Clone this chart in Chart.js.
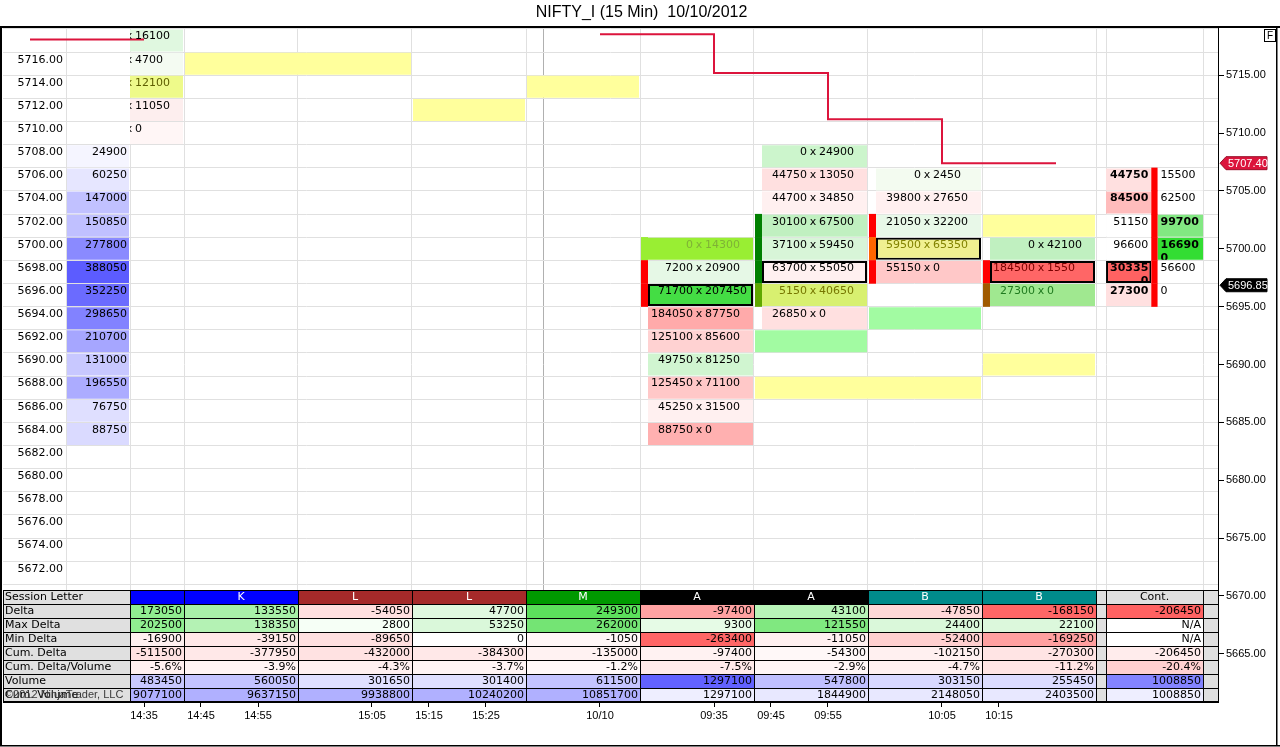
<!DOCTYPE html>
<html lang="en">
<head>
<meta charset="utf-8">
<title>NIFTY_I (15 Min) 10/10/2012</title>
<script src="https://cdn.jsdelivr.net/npm/chart.js@4.4.1/dist/chart.umd.min.js"></script>
<style>
  html, body { margin: 0; padding: 0; background: #fff; overflow: hidden; }
  canvas { display: block; }
</style>
</head>
<body>
<canvas id="chart" width="1280" height="747"></canvas>
<script>
const chartTitle = 'NIFTY_I (15 Min)  10/10/2012';

// time axis: labels sit on half-bar slots counted from the first bar
const timeLabels = ['14:35', '14:45', '14:55', '15:05', '15:15', '15:25', '10/10', '09:35', '09:45', '09:55', '10:05', '10:15'];
const timeSlots = [0, 1, 2, 4, 5, 6, 8, 10, 11, 12, 14, 15];
const priceTicks = [5715, 5710, 5705, 5700, 5695, 5690, 5685, 5680, 5675, 5670, 5665];
const ladderPrices = [5716, 5714, 5712, 5710, 5708, 5706, 5704, 5702, 5700, 5698, 5696, 5694,
  5692, 5690, 5688, 5686, 5684, 5682, 5680, 5678, 5676, 5674, 5672];

// session volume profile (left column)
const profilePrices = [5708, 5706, 5704, 5702, 5700, 5698, 5696, 5694, 5692, 5690, 5688, 5686, 5684];
const profileVolume = [24900, 60250, 147000, 150850, 277800, 388050, 352250, 298650, 210700, 131000, 196550, 76750, 88750];

// footprint bars: bid x ask at each price (bar 0 bids are hidden behind the ladder)
const fpBars = [0, 5, 6, 7, 8];
const fpPrices = [
  [5718, 5716, 5714, 5712, 5710],
  [5700, 5698, 5696, 5694, 5692, 5690, 5688, 5686, 5684],
  [5708, 5706, 5704, 5702, 5700, 5698, 5696, 5694],
  [5706, 5704, 5702, 5700, 5698],
  [5700, 5698, 5696]
];
const fpBid = [
  [null, null, null, null, null],
  [0, 7200, 71700, 184050, 125100, 49750, 125450, 45250, 88750],
  [0, 44750, 44700, 30100, 37100, 63700, 5150, 26850],
  [0, 39800, 21050, 59500, 55150],
  [0, 184500, 27300]
];
const fpAsk = [
  [16100, 4700, 12100, 11050, 0],
  [14300, 20900, 207450, 87750, 85600, 81250, 71100, 31500, 0],
  [24900, 13050, 34850, 67500, 59450, 55050, 40650, 0],
  [2450, 27650, 32200, 65350, 0],
  [42100, 1550, 0]
];

// coloured strip at the left edge of some bars
const stripBars = [5, 6, 7, 8];
const stripPrices = [[5700, 5698, 5696], [5702, 5700, 5698, 5696], [5702, 5700, 5698], [5698, 5696]];

// highlighted levels carried across bars
const hlPrices = [5716, 5714, 5712, 5702, 5690, 5688, 5694, 5692];
const hlFirst = [1, 4, 3, 8, 8, 6, 7, 6];
const hlLast = [2, 4, 3, 8, 8, 7, 7, 6];

// running bar (Cont.)
const contBar = 9;
const contPrices = [5706, 5704, 5702, 5700, 5698, 5696];
const contBid = [44750, 84500, 51150, 96600, 303350, 27300];
const contAsk = [15500, 62500, 99700, 166900, 56600, 0];

// stepped level line, value held from each bar to the next
const levelBars = [-1, 0, 1, 2, 3, 4, 5, 6, 7, 8];
const levelValues = [5718.1, 5718.1, null, null, null, 5718.55, 5715.2, 5711.2, 5707.4, 5707.4];
const lastPrice = 5696.85;

// bottom table
const tableLabels = ['Session Letter', 'Delta', 'Max Delta', 'Min Delta', 'Cum. Delta', 'Cum. Delta/Volume', 'Volume', 'Cum. Volume'];
const sessionLetters = ['', 'K', 'L', 'L', 'M', 'A', 'A', 'B', 'B', 'Cont.'];
const deltaRow = [173050, 133550, -54050, 47700, 249300, -97400, 43100, -47850, -168150, -206450];
const maxDeltaRow = [202500, 138350, 2800, 53250, 262000, 9300, 121550, 24400, 22100, null];
const minDeltaRow = [-16900, -39150, -89650, 0, -1050, -263400, -11050, -52400, -169250, null];
const cumDeltaRow = [-511500, -377950, -432000, -384300, -135000, -97400, -54300, -102150, -270300, -206450];
const cumDeltaPctRow = [-5.6, -3.9, -4.3, -3.7, -1.2, -7.5, -2.9, -4.7, -11.2, -20.4];
const volumeRow = [483450, 560050, 301650, 301400, 611500, 1297100, 547800, 303150, 255450, 1008850];
const cumVolumeRow = [9077100, 9637150, 9938800, 10240200, 10851700, 1297100, 1844900, 2148050, 2403500, 1008850];

// ---- styles ----
const fpColors = [
  ['#e0f8e0', '#f4fbf2', '#eefa8a', '#fdeeee', '#fff6f6'],
  ['#99ee33', '#e6f8e6', '#44dd44', '#ffaaaa', '#ffd2d2', '#d0f5d0', '#ffc8c8', '#fff0f0', '#ffb0b0'],
  ['#ccf5cc', '#ffe0e0', '#fff0f0', '#c0f0c0', '#d8f5d8', '#fff0f0', '#d8f070', '#ffe0e0'],
  ['#f3fbf0', '#fff0f0', '#e8f8e8', '#f0f090', '#ffc8c8'],
  ['#c0f0c0', '#ff6666', '#a0e890']
];
const fpTextColors = [
  [null, null, '#5e5e00', null, null],
  ['#7fb236', null, null, null, null, null, null, null, null],
  [null, null, null, null, null, null, '#767600', null],
  [null, null, null, '#828200', null],
  [null, '#7a0000', '#1f7a1f']
];
const stripColors = [
  ['#99ee33', '#ff0000', '#ff0000'],
  ['#008000', '#008000', '#008000', '#5fa800'],
  ['#ff0000', '#ff6600', '#ff0000'],
  ['#ff0000', '#a05a00']
];
const hlColors = ['#ffff9c', '#ffff9c', '#ffff9c', '#ffff9c', '#ffff9c', '#ffff9c', '#a2fba2', '#a2fba2'];
const contBidColors = ['#ffe0e0', '#ffbcbc', '#ffffff', '#ffffff', '#ff6262', '#ffe0e0'];
const contAskColors = ['#ffffff', '#ffffff', '#82e882', '#33dd33', '#ffffff', '#ffffff'];
const sessionColors = ['#0000ff', '#0000ff', '#a52a2a', '#a52a2a', '#009900', '#000000', '#000000', '#008b8b', '#008b8b', '#e0e0e0'];
const tableColors = [
  sessionColors,
  ['#90ee90', '#a8f0a8', '#ffe0e0', '#e0f8e0', '#5ce05c', '#ffa2a2', '#b8f4b8', '#ffd8d8', '#ff6666', '#ff6262'],
  ['#90ee90', '#b4f2b4', '#f6fff6', '#daf8da', '#74e474', '#e6fbe6', '#80e880', '#daf8da', '#dcf8dc', '#ffffff'],
  ['#fff0f0', '#ffe8e8', '#ffe0e0', '#ffffff', '#fff6f6', '#ff6666', '#fff0f0', '#ffd0d0', '#ffa0a0', '#ffffff'],
  ['#ffe2e2', '#ffe8e8', '#ffe2e2', '#ffe8e8', '#fff2f2', '#fff2f2', '#fff8f8', '#fff0f0', '#ffe4e4', '#ffecec'],
  ['#fff0f0', '#fff4f4', '#fff0f0', '#fff4f4', '#fff8f8', '#ffeaea', '#fff6f6', '#fff0f0', '#ffe4e4', '#ffd0d0'],
  ['#c8c8ff', '#c4c4ff', '#e0e0ff', '#e0e0ff', '#c4c4ff', '#6262ff', '#c0c0ff', '#d8d8ff', '#dcdcff', '#8484ff'],
  ['#b0b0ff', '#b0b0ff', '#b0b0ff', '#b0b0ff', '#b0b0ff', '#eeeeff', '#e8e8ff', '#e8e8ff', '#e8e8ff', '#eeeeff']
];

// ---- layout (x in bar units, one bar = COL pixels) ----
const FONT = '"DejaVu Sans", Verdana, sans-serif';
const AXIS_FONT = '"Liberation Sans", Arial, sans-serif';
const COL = 114;
const GAP = 1 / COL;
const STRIP = 8 / COL;
const LADDER_EDGE = 3 / COL;
const PROFILE_LEFT = -61 / COL;
const TIME_SHIFT = 17 / COL;
const SESSION_BREAK = 3.65;
const CONT_COL = [8.588, 9.439];
const CONT_SPLIT = [8.985, 9.04];
const X_MIN = -124 / COL, X_MAX = 1091 / COL;
const Y_MIN = 5660.83, Y_MAX = 5719.17;
const ROW_PX = 14, PLOT_PX = 675;
const TABLE_ROWS = tableLabels.length;
const TEXT_LIFT = 4;

// the table shares the price axis: its rows are stacked up from the bottom of the panel
const rowValue = r => Y_MIN + (TABLE_ROWS - 0.5 - r) * ROW_PX * (Y_MAX - Y_MIN) / PLOT_PX;
const cellLeft = bar => Math.max(bar - 0.5 + STRIP, LADDER_EDGE);
const cellRight = bar => bar + 0.5 - GAP;
const tableColRange = c => c === contBar ? CONT_COL : [Math.max(c - 0.5, LADDER_EDGE), c + 0.5];
const fmt = v => v === null ? 'N/A' : String(v);

function pocIndex(bids, asks) {
  if (bids.some(v => v === null)) return -1;
  let best = -1, max = -1;
  bids.forEach((v, k) => { if (v + asks[k] > max) { max = v + asks[k]; best = k; } });
  return best;
}

function cellSet(label, data, colors, extra) {
  return Object.assign({
    type: 'bar', label, data,
    backgroundColor: colors, borderColor: '#000', borderWidth: 0,
    borderSkipped: false, inflateAmount: 0, stack: 'cells', barThickness: 22,
    xAxisID: 'x', yAxisID: 'y', indexAxis: 'y'
  }, extra);
}

// footprint cells
const fpData = [], fpBg = [], fpBorder = [];
fpBars.forEach((bar, b) => {
  const poc = pocIndex(fpBid[b], fpAsk[b]);
  fpPrices[b].forEach((p, k) => {
    fpData.push({ x: [cellLeft(bar), cellRight(bar)], y: p });
    fpBg.push(fpColors[b][k]);
    fpBorder.push(k === poc ? 2 : 0);
  });
});

const stripData = [], stripBg = [];
stripBars.forEach((bar, b) => stripPrices[b].forEach((p, k) => {
  stripData.push({ x: [bar - 0.5 + GAP, bar - 0.5 + STRIP], y: p });
  stripBg.push(stripColors[b][k]);
}));

const hlData = hlPrices.map((p, k) => ({ x: [hlFirst[k] - 0.5 + GAP, hlLast[k] + 0.5 - GAP], y: p }));

const contPoc = pocIndex(contBid, contAsk);
const contData = [], contBg = [], contBorder = [];
contPrices.forEach((p, k) => {
  contData.push({ x: [CONT_COL[0], CONT_SPLIT[0]], y: p });
  contBg.push(contBidColors[k]);
  contBorder.push(k === contPoc && contBid[k] >= contAsk[k] ? 2 : 0);
  contData.push({ x: [CONT_SPLIT[1], CONT_COL[1]], y: p });
  contBg.push(contAskColors[k]);
  contBorder.push(k === contPoc && contAsk[k] > contBid[k] ? 2 : 0);
});

const profileMax = Math.max(...profileVolume);
const profileColors = profileVolume.map(v => {
  const c = Math.round(255 - 163 * v / profileMax);
  return `rgb(${c},${c},255)`;
});

// table cells
const tableText = [
  sessionLetters, deltaRow.map(fmt), maxDeltaRow.map(fmt), minDeltaRow.map(fmt),
  cumDeltaRow.map(fmt), cumDeltaPctRow.map(v => v.toFixed(1) + '%'), volumeRow.map(fmt), cumVolumeRow.map(fmt)
];
const tableData = [], tableBg = [], tableBorders = [];
const labelData = [], labelBorders = [];
tableColors.forEach((rowColors, r) => {
  const y = rowValue(r);
  const edge = { top: 1, left: 1, right: 0, bottom: r === TABLE_ROWS - 1 ? 1 : 0 };
  rowColors.forEach((col, c) => {
    tableData.push({ x: tableColRange(c), y });
    tableBg.push(col);
    tableBorders.push(edge);
  });
  [[contBar - 0.5, CONT_COL[0]], [CONT_COL[1], X_MAX]].forEach(rg => {
    tableData.push({ x: rg, y });
    tableBg.push('#e0e0e0');
    tableBorders.push(edge);
  });
  labelData.push({ x: [X_MIN, LADDER_EDGE], y });
  labelBorders.push(edge);
});

const gridCols = [PROFILE_LEFT, LADDER_EDGE, 0.5, 1.5, 2.5, 3.5, SESSION_BREAK, 4.5, 5.5, 6.5, 7.5, 8.5, CONT_COL[0], CONT_COL[1]];
const gridRows = [ladderPrices[0] + 3, ...ladderPrices.map(p => p + 1), ladderPrices[ladderPrices.length - 1] - 1];

function clipRect(ctx, l, t, r, b) {
  ctx.beginPath();
  ctx.rect(l, t, r - l, b - t);
  ctx.clip();
}

function wrapText(ctx, text, align, l, r, y, bold) {
  ctx.save();
  ctx.font = (bold ? 'bold ' : '') + '11px ' + FONT;
  let head = text, tail = '';
  while (head.length > 1 && ctx.measureText(head).width > r - l - 5) {
    tail = head.slice(-1) + tail;
    head = head.slice(0, -1);
  }
  clipRect(ctx, l, y - 11, r, y + 11);
  ctx.fillStyle = '#000';
  ctx.textAlign = align;
  const x = align === 'right' ? r - 3 : l + 3;
  ctx.fillText(head, x, y - TEXT_LIFT);
  if (tail) ctx.fillText(tail, x, y - TEXT_LIFT + 13);
  ctx.restore();
}

function priceTag(ctx, x0, y, text, fill, edge) {
  const h = 6.5, tip = 6, w = 47, x = x0 + 2;
  ctx.beginPath();
  ctx.moveTo(x, y);
  ctx.lineTo(x + tip, y - h);
  ctx.lineTo(x + w, y - h);
  ctx.lineTo(x + w, y + h);
  ctx.lineTo(x + tip, y + h);
  ctx.closePath();
  ctx.fillStyle = fill;
  ctx.fill();
  ctx.strokeStyle = edge;
  ctx.lineWidth = 1;
  ctx.stroke();
  ctx.fillStyle = '#fff';
  ctx.font = '11px ' + AXIS_FONT;
  ctx.textAlign = 'left';
  ctx.textBaseline = 'middle';
  ctx.fillText(text, x + tip + 2, y + 0.5);
}

const cellText = {
  id: 'cellText',
  afterDatasetsDraw(chart) {
    const { ctx, scales } = chart;
    const X = v => scales.x.getPixelForValue(v);
    const Y = p => scales.y.getPixelForValue(p);
    ctx.save();
    ctx.textBaseline = 'middle';
    ctx.font = '11px ' + FONT;
    ctx.fillStyle = '#000';

    // price ladder and volume profile
    ctx.textAlign = 'right';
    ladderPrices.forEach(p => ctx.fillText(p.toFixed(2), X(PROFILE_LEFT) - 3, Y(p) - TEXT_LIFT));
    profilePrices.forEach((p, k) => ctx.fillText(String(profileVolume[k]), X(LADDER_EDGE - GAP) - 2, Y(p) - TEXT_LIFT));

    // footprint: bid x ask around the bar centre
    fpBars.forEach((bar, b) => {
      const xc = X(bar);
      fpPrices[b].forEach((p, k) => {
        const y = Y(p), ty = y - TEXT_LIFT;
        ctx.save();
        clipRect(ctx, X(cellLeft(bar)), y - 11, X(cellRight(bar)), y + 11);
        ctx.fillStyle = fpTextColors[b][k] || '#000';
        if (fpBid[b][k] !== null) {
          ctx.textAlign = 'right';
          ctx.fillText(String(fpBid[b][k]), xc - 4, ty);
        }
        ctx.textAlign = 'center';
        ctx.fillText('x', xc + 2, ty);
        ctx.textAlign = 'left';
        ctx.fillText(String(fpAsk[b][k]), xc + 8, ty);
        ctx.restore();
      });
    });

    // running bar
    contPrices.forEach((p, k) => {
      const bid = contBid[k], ask = contAsk[k], y = Y(p);
      wrapText(ctx, String(bid), 'right', X(CONT_COL[0]), X(CONT_SPLIT[0]), y, bid > ask);
      wrapText(ctx, String(ask), 'left', X(CONT_SPLIT[1]), X(CONT_COL[1]), y, ask > bid);
    });

    // table
    ctx.font = '11px ' + FONT;
    tableText.forEach((row, r) => {
      const y = Y(rowValue(r));
      ctx.fillStyle = '#000';
      ctx.textAlign = 'left';
      ctx.fillText(tableLabels[r], X(X_MIN) + 2, y);
      row.forEach((txt, c) => {
        const [l, rr] = tableColRange(c);
        ctx.save();
        clipRect(ctx, X(l), y - 7, X(rr), y + 7);
        if (r === 0) {
          ctx.textAlign = 'center';
          ctx.fillStyle = sessionColors[c] === '#e0e0e0' ? '#000' : '#fff';
          ctx.fillText(txt, (X(l) + X(rr)) / 2, y);
        } else {
          ctx.textAlign = 'right';
          ctx.fillStyle = '#000';
          ctx.fillText(txt, X(rr) - 2, y);
        }
        ctx.restore();
      });
    });
    ctx.restore();
  },
  afterDraw(chart) {
    const { ctx, scales, chartArea, width, height } = chart;
    ctx.save();
    ctx.font = '11px ' + AXIS_FONT;
    ctx.fillStyle = '#3a3a3a';
    ctx.textBaseline = 'middle';
    ctx.textAlign = 'left';
    ctx.fillText('\u00a92012 NinjaTrader, LLC', chartArea.left + 2, scales.y.getPixelForValue(rowValue(TABLE_ROWS - 1)));

    const lastLevel = levelValues[levelValues.length - 1];
    priceTag(ctx, chartArea.right, scales.y.getPixelForValue(lastLevel), lastLevel.toFixed(2), '#dc143c', '#9a0f2a');
    priceTag(ctx, chartArea.right, scales.y.getPixelForValue(lastPrice), lastPrice.toFixed(2), '#000', '#000');

    // panel frame
    ctx.fillStyle = '#000';
    ctx.fillRect(0, chartArea.top - 1, width, 2);
    ctx.fillRect(0, chartArea.top - 1, 2, height - chartArea.top);
    ctx.fillRect(width - 4, chartArea.top - 1, 1.5, height - chartArea.top);
    ctx.fillRect(0, height - 2, width, 1.5);

    // "F" button
    ctx.fillStyle = '#fff';
    ctx.fillRect(width - 15, chartArea.top + 3, 10, 11);
    ctx.strokeStyle = '#000';
    ctx.lineWidth = 1;
    ctx.strokeRect(width - 15.5, chartArea.top + 2.5, 11, 12);
    ctx.fillStyle = '#000';
    ctx.font = '10px ' + AXIS_FONT;
    ctx.textAlign = 'center';
    ctx.fillText('F', width - 10, chartArea.top + 9);
    ctx.restore();
  }
};

Chart.defaults.font.family = FONT;

new Chart(document.getElementById('chart'), {
  type: 'bar',
  data: {
    datasets: [
      {
        type: 'line', label: 'level',
        data: levelBars.map((bar, k) => ({ x: bar + TIME_SHIFT, y: levelValues[k] })),
        borderColor: '#dc143c', borderWidth: 2, pointRadius: 0, stepped: true,
        spanGaps: false, fill: false, xAxisID: 'x', yAxisID: 'y', indexAxis: 'x', order: 1
      },
      cellSet('labels', labelData, '#e0e0e0', { barThickness: ROW_PX, borderWidth: labelBorders, order: 3 }),
      cellSet('table', tableData, tableBg, { barThickness: ROW_PX, borderWidth: tableBorders, order: 4 }),
      cellSet('profile', profilePrices.map(p => ({ x: [PROFILE_LEFT + GAP, LADDER_EDGE - GAP], y: p })), profileColors, { order: 8 }),
      cellSet('footprint', fpData, fpBg, { borderWidth: fpBorder, order: 8 }),
      cellSet('running', contData, contBg, { borderWidth: contBorder, order: 8 }),
      cellSet('runningBar', contPrices.map(p => ({ x: CONT_SPLIT, y: p })), '#ff0000', { barThickness: 23.5, order: 7 }),
      cellSet('strips', stripData, stripBg, { barThickness: 23.5, order: 7 }),
      cellSet('levels', hlData, hlColors, { order: 9 })
    ]
  },
  options: {
    responsive: false,
    animation: false,
    events: [],
    indexAxis: 'y',
    layout: { padding: { left: 3, right: 0, top: 0, bottom: 0 } },
    plugins: {
      legend: { display: false },
      tooltip: { enabled: false },
      title: {
        display: true, text: chartTitle, color: '#000',
        font: { family: AXIS_FONT, size: 16, weight: 'normal', lineHeight: 1.125 },
        padding: { top: 4, bottom: 5 }
      }
    },
    scales: {
      x: {
        type: 'linear', axis: 'x', position: 'bottom', min: X_MIN, max: X_MAX, stacked: false, offset: false,
        afterBuildTicks: s => { s.ticks = timeSlots.map(k => ({ value: k / 2 + TIME_SHIFT })); },
        afterFit: s => { s.height = 45; },
        grid: { drawOnChartArea: false, offset: false, tickLength: 5, color: '#000' },
        border: { display: true, color: '#000' },
        ticks: {
          padding: 2, autoSkip: false, maxRotation: 0, minRotation: 0, color: '#000',
          font: { family: AXIS_FONT, size: 11 },
          callback: (v, i) => timeLabels[i]
        }
      },
      xg: {
        type: 'linear', axis: 'x', position: 'top', min: X_MIN, max: X_MAX, offset: false,
        afterBuildTicks: s => { s.ticks = gridCols.map(v => ({ value: v })); },
        afterFit: s => { s.height = 0; },
        grid: { drawTicks: false, offset: false, color: c => c.tick && c.tick.value === SESSION_BREAK ? '#b0b0b0' : '#e0e0e0' },
        border: { display: false },
        ticks: { display: false }
      },
      y: {
        type: 'linear', axis: 'y', position: 'right', min: Y_MIN, max: Y_MAX, offset: false,
        afterBuildTicks: s => { s.ticks = priceTicks.map(v => ({ value: v })); },
        afterFit: s => { s.width = 62; },
        grid: { drawOnChartArea: false, offset: false, tickLength: 6, color: '#000' },
        border: { display: true, color: '#000' },
        ticks: {
          padding: 2, color: '#000', font: { family: AXIS_FONT, size: 11 },
          callback: v => Number(v).toFixed(2)
        }
      },
      yg: {
        type: 'linear', axis: 'y', position: 'left', min: Y_MIN, max: Y_MAX, offset: false,
        afterBuildTicks: s => { s.ticks = gridRows.map(v => ({ value: v })); },
        afterFit: s => { s.width = 0; },
        grid: { drawTicks: false, offset: false, color: '#e0e0e0' },
        border: { display: false },
        ticks: { display: false }
      }
    }
  },
  plugins: [cellText]
});
</script>
</body>
</html>
